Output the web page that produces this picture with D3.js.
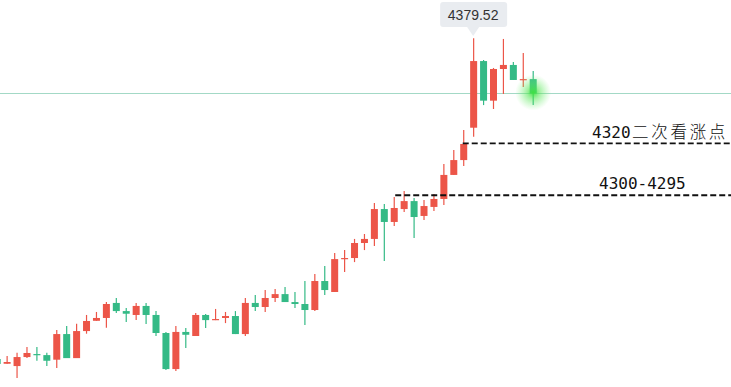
<!DOCTYPE html>
<html>
<head>
<meta charset="utf-8">
<script src="https://cdn.jsdelivr.net/npm/d3@7"></script>
<style>
  html, body { margin: 0; padding: 0; background: #fff; }
  svg { display: block; }
</style>
</head>
<body>
<div id="chart"></div>
<script>
// ---- data ----
const openP  = [4198.1,4195.4,4194.1,4199.2,4200.9,4200.3,4197.7,4212.2,4198.6,4213.9,4219.7,4221.3,4229.8,4225.2,4223.0,4228.1,4223.0,4212.8,4192.4,4213.4,4211.1,4223.0,4220.1,4221.3,4222.4,4212.2,4229.8,4227.5,4232.6,4234.8,4230.3,4229.2,4225.8,4242.2,4236.0,4254.6,4255.2,4263.7,4266.0,4282.9,4275.6,4282.9,4287.4,4279.0,4284.1,4288.6,4302.2,4310.6,4328.9,4366.6,4344.2,4362.1,4364.4,4355.9,4356.4];
const highP  = [4198.7,4199.8,4201.6,4204.9,4204.9,4201.6,4214.5,4216.7,4218.0,4223.0,4224.7,4230.3,4232.6,4226.9,4229.8,4229.8,4225.2,4213.4,4216.7,4215.6,4224.1,4223.5,4226.4,4224.7,4225.2,4232.6,4234.3,4237.1,4237.7,4238.8,4236.0,4242.2,4246.2,4250.7,4258.0,4259.7,4266.0,4268.8,4286.3,4285.8,4289.7,4293.1,4289.1,4288.0,4291.4,4308.4,4316.3,4327.6,4379.52,4367.2,4362.7,4379.1,4366.1,4371.2,4361.0];
const lowP   = [4194.7,4195.4,4187.3,4198.6,4197.1,4194.1,4193.0,4198.6,4198.6,4212.4,4219.7,4215.8,4224.1,4219.0,4220.1,4217.9,4211.1,4191.9,4191.3,4204.3,4211.1,4215.6,4220.1,4218.4,4212.2,4211.1,4225.2,4224.7,4230.3,4230.3,4226.9,4217.3,4225.2,4234.3,4236.0,4247.3,4252.9,4259.7,4262.0,4253.5,4273.3,4281.2,4266.5,4276.7,4281.8,4285.2,4302.2,4307.2,4323.8,4341.7,4339.5,4348.0,4355.9,4351.9,4341.7];
const closeP = [4195.3,4196.4,4199.2,4201.5,4200.3,4197.1,4212.2,4198.6,4213.9,4219.6,4221.3,4229.2,4225.2,4223.7,4228.1,4223.0,4212.8,4192.4,4213.4,4211.8,4223.0,4220.1,4220.7,4222.4,4212.2,4229.8,4227.5,4232.6,4234.8,4230.3,4229.2,4225.8,4242.2,4237.1,4254.6,4255.2,4263.7,4266.0,4282.9,4275.6,4283.5,4287.4,4278.4,4284.6,4288.6,4302.2,4310.6,4319.7,4366.6,4344.2,4362.1,4364.4,4355.9,4356.4,4348.2];

const levelValues = [4320, 4290.7];
const levelStart  = [46.9, 40.1];
const levelLabelsNum = ["4320", "4300-4295"];
const levelLabelsCjk = ["二次看涨点", ""];
const tooltipValue = "4379.52";

// ---- layout ----
const W = 731, H = 387;
const UP = "#ec5548", DOWN = "#34ba86";

const svg = d3.select("#chart").append("svg")
  .attr("width", W).attr("height", H);

const idx = d3.range(openP.length);
const x = d3.scaleLinear().domain([0, openP.length - 1]).range([-2.8, 533.2]);
const y = d3.scaleLinear().domain([4180, 4400]).range([391, 2]);
const bodyW = 7;

const defs = svg.append("defs");
const grad = defs.append("radialGradient").attr("id", "glow");
grad.append("stop").attr("offset", "0%").attr("stop-color", "#3fe23f").attr("stop-opacity", 0.95);
grad.append("stop").attr("offset", "35%").attr("stop-color", "#55e655").attr("stop-opacity", 0.55);
grad.append("stop").attr("offset", "100%").attr("stop-color", "#7ff07f").attr("stop-opacity", 0);

// current price line
const last = closeP[closeP.length - 1];
const ly = Math.floor(y(last)) + 0.5;
svg.append("line")
  .attr("x1", 0).attr("x2", W)
  .attr("y1", ly).attr("y2", ly)
  .attr("stroke", "#a3d9c6").attr("stroke-width", 1);

// candles
const g = svg.append("g");
const cand = g.selectAll("g.c").data(idx).join("g").attr("class", "c");
cand.append("line")
  .attr("x1", i => x(i)).attr("x2", i => x(i))
  .attr("y1", i => y(highP[i])).attr("y2", i => y(lowP[i]))
  .attr("stroke", i => closeP[i] >= openP[i] ? UP : DOWN)
  .attr("stroke-width", 1.2);
cand.append("rect")
  .attr("x", i => x(i) - bodyW / 2)
  .attr("width", bodyW)
  .attr("y", i => y(Math.max(openP[i], closeP[i])))
  .attr("height", i => Math.max(1.2, Math.abs(y(openP[i]) - y(closeP[i]))))
  .attr("fill", i => closeP[i] >= openP[i] ? UP : DOWN);

// glow on last candle
svg.append("circle")
  .attr("cx", x(idx.length - 1)).attr("cy", ly - 1)
  .attr("r", 18).attr("fill", "url(#glow)");

// annotation levels
levelValues.forEach((v, k) => {
  svg.append("line")
    .attr("x1", x(levelStart[k])).attr("x2", W)
    .attr("y1", y(v)).attr("y2", y(v))
    .attr("stroke", "#111").attr("stroke-width", 1.8)
    .attr("stroke-dasharray", "6,3");
});
const labelPos = [[592, y(levelValues[0]) - 5.5], [599, y(levelValues[1]) - 5.8]];
levelLabelsNum.forEach((t, k) => {
  const txt = svg.append("text")
    .attr("x", labelPos[k][0]).attr("y", labelPos[k][1])
    .attr("font-family", "'DejaVu Sans Mono', 'Liberation Mono', monospace")
    .attr("font-size", 16).attr("fill", "#111");
  txt.append("tspan").text(t);
  if (levelLabelsCjk[k]) {
    txt.append("tspan")
      .attr("font-family", "'Noto Sans CJK SC', sans-serif")
      .attr("font-size", 16.5).attr("font-weight", 300)
      .attr("letter-spacing", "2.7px")
      .attr("dx", 1.5)
      .text(levelLabelsCjk[k]);
  }
});

// tooltip at the high
const hi = d3.maxIndex(highP);
const tx = x(hi);
const tip = svg.append("g");
tip.append("path")
  .attr("d", `M${tx - 33.5},5 a3,3 0 0 1 3,-3 h61 a3,3 0 0 1 3,3 v19 a3,3 0 0 1 -3,3 h-25 l-6,9 l-6,-9 h-24 a3,3 0 0 1 -3,-3 z`)
  .attr("fill", "#e9ecf0");
tip.append("text")
  .attr("x", tx - 0.5).attr("y", 20)
  .attr("text-anchor", "middle")
  .attr("font-family", "'Liberation Sans', Arial, sans-serif")
  .attr("font-size", 14).attr("fill", "#333")
  .text(tooltipValue);
</script>
</body>
</html>
